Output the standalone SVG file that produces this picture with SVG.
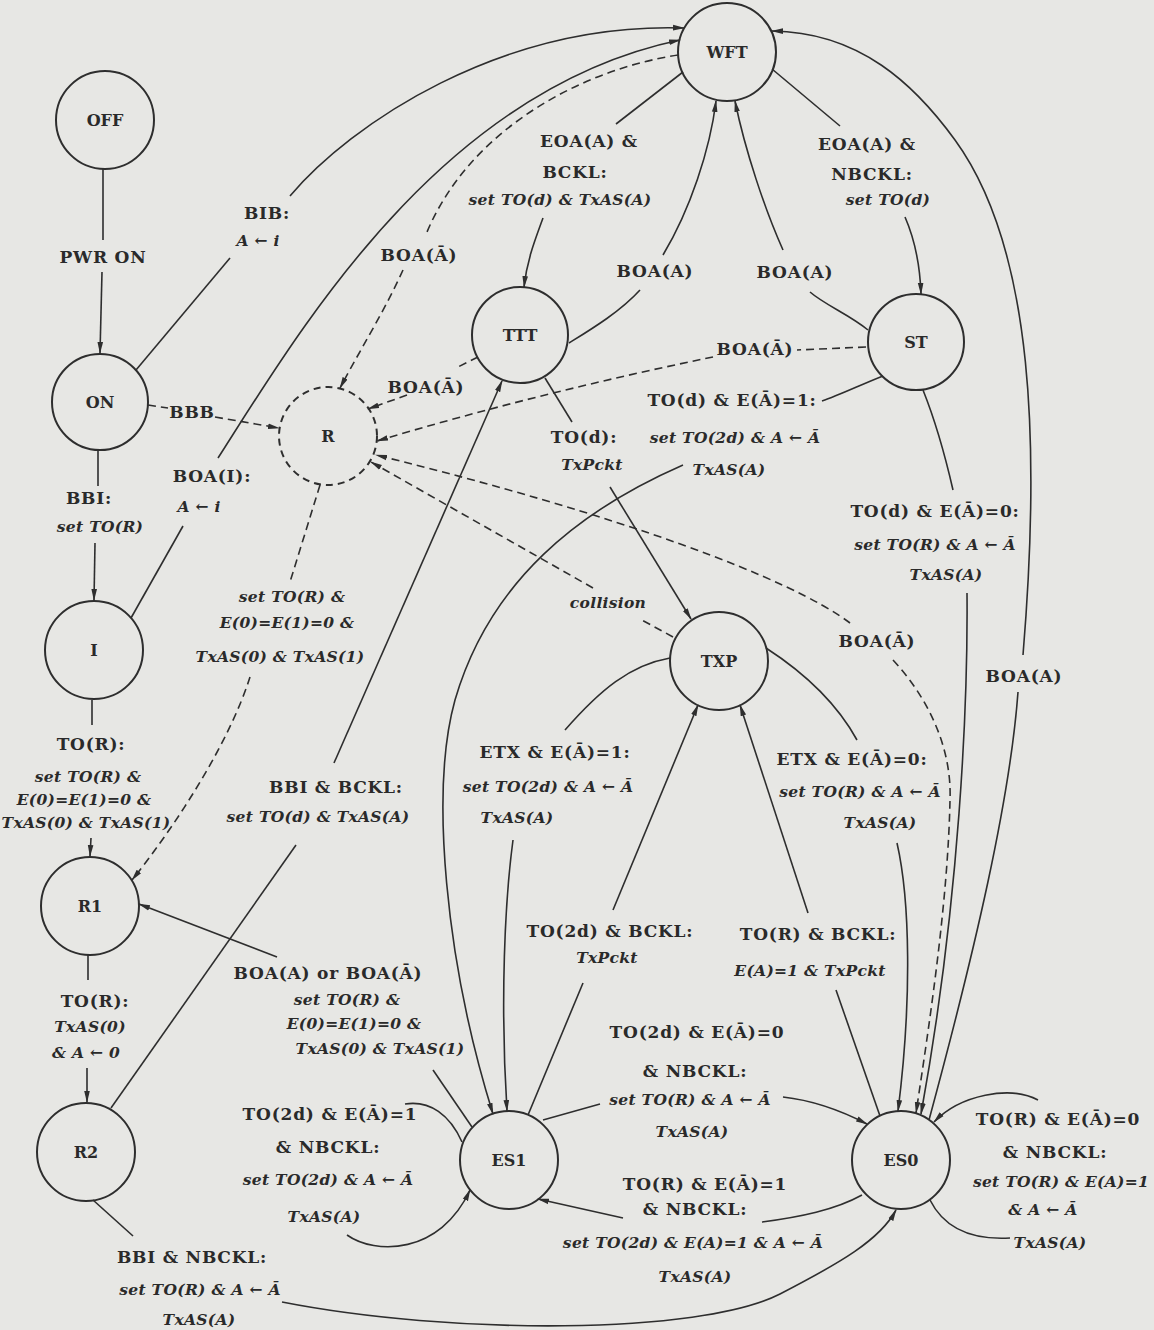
<svg xmlns="http://www.w3.org/2000/svg" width="1154" height="1330" viewBox="0 0 1154 1330">
<style>
.bg{fill:#e7e7e4}
.n{fill:none;stroke:#2e2e2e;stroke-width:2}
.nd{stroke-dasharray:7 5}
.nl{font-family:"DejaVu Serif",serif;font-weight:bold;font-size:16px;text-anchor:middle;fill:#2a2a2a}
.c path{fill:none;stroke:#2e2e2e;stroke-width:1.6}
.c path.d{stroke-dasharray:8 5}
.c path.a{marker-end:url(#ah)}
.b{font-family:"DejaVu Serif",serif;font-weight:bold;font-size:17px;text-anchor:middle;fill:#2a2a2a;letter-spacing:0.8px}
.i{font-family:"DejaVu Serif",serif;font-style:italic;font-weight:bold;font-size:15.5px;text-anchor:middle;fill:#2a2a2a;letter-spacing:0.3px}
</style>
<defs>
<marker id="ah" markerWidth="12" markerHeight="8" refX="11" refY="4" orient="auto" markerUnits="userSpaceOnUse">
<path d="M0,1.2 L12,4 L0,6.8 z" fill="#2e2e2e"/>
</marker>
</defs>
<rect class="bg" x="0" y="0" width="1154" height="1330"/>

<g id="nodes">
<g id="OFF"><circle class="n" cx="105" cy="120" r="49"/><text class="nl" x="105" y="126">OFF</text></g>
<g id="ON"><circle class="n" cx="100" cy="402" r="48"/><text class="nl" x="100" y="408">ON</text></g>
<g id="I"><circle class="n" cx="94" cy="650" r="49"/><text class="nl" x="94" y="656">I</text></g>
<g id="R"><circle class="n nd" cx="328" cy="436" r="49"/><text class="nl" x="328" y="442">R</text></g>
<g id="R1"><circle class="n" cx="90" cy="906" r="49"/><text class="nl" x="90" y="912">R1</text></g>
<g id="R2"><circle class="n" cx="86" cy="1152" r="49"/><text class="nl" x="86" y="1158">R2</text></g>
<g id="WFT"><circle class="n" cx="727" cy="52" r="49"/><text class="nl" x="727" y="58">WFT</text></g>
<g id="TTT"><circle class="n" cx="520" cy="335" r="48"/><text class="nl" x="520" y="341">TTT</text></g>
<g id="ST"><circle class="n" cx="916" cy="342" r="48"/><text class="nl" x="916" y="348">ST</text></g>
<g id="TXP"><circle class="n" cx="719" cy="661" r="49"/><text class="nl" x="719" y="667">TXP</text></g>
<g id="ES1"><circle class="n" cx="509" cy="1160" r="49"/><text class="nl" x="509" y="1166">ES1</text></g>
<g id="ES0"><circle class="n" cx="901" cy="1160" r="49"/><text class="nl" x="901" y="1166">ES0</text></g>
</g>

<g id="connectors" class="c">
<path d="M103,169 L103,240"/><path class="a" d="M102,272 L100,353"/>
<path d="M136,370 L230,258"/><path class="a" d="M290,196 C350,125 500,22 684,28"/>
<path d="M131,618 L183,526"/><path class="a" d="M218,458 C300,330 440,90 680,40"/>
<path class="d" d="M678,55 C580,70 470,130 427,232"/><path class="d a" d="M403,270 C385,310 360,350 340,388"/>
<path class="d" d="M148,405 L168,408"/><path class="d a" d="M215,417 L279,428"/>
<path d="M98,450 L98,486"/><path class="a" d="M95,543 L94,600"/>
<path d="M92,700 L92,725"/><path class="a" d="M91,838 L90,856"/>
<path class="d" d="M320,485 L290,582"/><path class="d a" d="M250,677 C230,740 180,820 132,880"/>
<path d="M88,955 L88,980"/><path class="a" d="M87,1068 L87,1102"/>
<path d="M111,1108 L296,845"/><path class="a" d="M334,763 L502,381"/>
<path d="M472,1127 L433,1070"/><path class="a" d="M277,957 L139,904"/>
<path d="M462,1142 C450,1115 430,1100 405,1104"/><path class="a" d="M347,1235 C375,1255 440,1255 470,1190"/>
<path d="M543,1120 L600,1104"/><path class="a" d="M783,1097 C810,1100 840,1110 867,1124"/>
<path d="M862,1195 C835,1210 800,1217 762,1222"/><path class="a" d="M623,1218 L538,1199"/>
<path d="M93,1200 L133,1236"/><path class="a" d="M282,1302 C450,1335 700,1335 780,1294 C840,1263 880,1240 896,1210"/>
<path class="a" d="M1038,1100 C1010,1085 960,1095 934,1122"/><path d="M930,1200 C945,1230 975,1240 1010,1238"/>
<path d="M683,72 L616,124"/><path class="a" d="M543,218 C535,240 527,260 524,287"/>
<path d="M569,343 C590,330 620,312 640,290"/><path class="a" d="M663,255 C690,210 710,150 716,101"/>
<path d="M868,330 C850,315 825,305 810,292"/><path class="a" d="M783,250 C765,210 745,150 735,101"/>
<path d="M772,69 L840,126"/><path class="a" d="M905,217 C915,240 920,265 921,294"/>
<path d="M1018,692 C1010,800 975,950 929,1120"/><path class="a" d="M1023,655 C1040,450 1035,250 955,140 C915,85 860,32 772,31"/>
<path class="d" d="M478,357 L458,367"/><path class="d a" d="M407,395 L368,409"/>
<path class="d" d="M866,347 L797,350"/><path class="d a" d="M713,357 C600,380 480,410 377,441"/>
<path class="d" d="M673,637 L640,619"/><path class="d a" d="M593,588 L371,462"/>
<path class="d a" d="M850,623 C790,578 620,515 376,455"/><path class="d a" d="M893,660 C930,700 952,750 950,800 C948,900 930,1020 916,1113"/>
<path d="M545,378 L572,422"/><path class="a" d="M610,487 L691,619"/>
<path d="M883,376 C860,385 840,395 822,401"/><path class="a" d="M683,465 C580,510 490,580 455,700 C430,790 445,960 493,1114"/>
<path d="M670,658 C630,665 600,690 565,730"/><path class="a" d="M513,840 C505,900 500,1000 507,1111"/>
<path d="M528,1115 L583,983"/><path class="a" d="M613,910 L698,705"/>
<path d="M880,1116 L836,990"/><path class="a" d="M808,913 L740,705"/>
<path d="M766,648 C800,670 835,700 857,740"/><path class="a" d="M897,843 C910,900 912,1000 898,1111"/>
<path d="M923,390 C935,420 945,455 953,490"/><path class="a" d="M967,593 C968,700 960,900 921,1114"/>
</g>

<g id="labels">
<text class="b" x="103" y="263">PWR ON</text>
<text class="b" x="267" y="219">BIB:</text>
<text class="i" x="258" y="246">A ← i</text>
<text class="b" x="212" y="482">BOA(I):</text>
<text class="i" x="199" y="512">A ← i</text>
<text class="b" x="419" y="261">BOA(Ā)</text>
<text class="b" x="192" y="418">BBB</text>
<text class="b" x="89" y="504">BBI:</text>
<text class="i" x="100" y="532">set TO(R)</text>
<text class="b" x="91" y="750">TO(R):</text>
<text class="i" x="88" y="782">set TO(R) &amp;</text>
<text class="i" x="84" y="805">E(0)=E(1)=0 &amp;</text>
<text class="i" x="86" y="828">TxAS(0) &amp; TxAS(1)</text>
<text class="i" x="292" y="602">set TO(R) &amp;</text>
<text class="i" x="287" y="628">E(0)=E(1)=0 &amp;</text>
<text class="i" x="280" y="662">TxAS(0) &amp; TxAS(1)</text>
<text class="b" x="95" y="1007">TO(R):</text>
<text class="i" x="90" y="1032">TxAS(0)</text>
<text class="i" x="86" y="1058">&amp; A ← 0</text>
<text class="b" x="336" y="793">BBI &amp; BCKL:</text>
<text class="i" x="318" y="822">set TO(d) &amp; TxAS(A)</text>
<text class="b" x="328" y="979">BOA(A) or BOA(Ā)</text>
<text class="i" x="347" y="1005">set TO(R) &amp;</text>
<text class="i" x="354" y="1029">E(0)=E(1)=0 &amp;</text>
<text class="i" x="380" y="1054">TxAS(0) &amp; TxAS(1)</text>
<text class="b" x="330" y="1120">TO(2d) &amp; E(Ā)=1</text>
<text class="b" x="328" y="1153">&amp; NBCKL:</text>
<text class="i" x="328" y="1185">set TO(2d) &amp; A ← Ā</text>
<text class="i" x="324" y="1222">TxAS(A)</text>
<text class="b" x="697" y="1038">TO(2d) &amp; E(Ā)=0</text>
<text class="b" x="695" y="1077">&amp; NBCKL:</text>
<text class="i" x="690" y="1105">set TO(R) &amp; A ← Ā</text>
<text class="i" x="692" y="1137">TxAS(A)</text>
<text class="b" x="705" y="1190">TO(R) &amp; E(Ā)=1</text>
<text class="b" x="695" y="1215">&amp; NBCKL:</text>
<text class="i" x="693" y="1248">set TO(2d) &amp; E(A)=1 &amp; A ← Ā</text>
<text class="i" x="695" y="1282">TxAS(A)</text>
<text class="b" x="192" y="1263">BBI &amp; NBCKL:</text>
<text class="i" x="200" y="1295">set TO(R) &amp; A ← Ā</text>
<text class="i" x="199" y="1325">TxAS(A)</text>
<text class="b" x="1058" y="1125">TO(R) &amp; E(Ā)=0</text>
<text class="b" x="1055" y="1158">&amp; NBCKL:</text>
<text class="i" x="1061" y="1187">set TO(R) &amp; E(A)=1</text>
<text class="i" x="1043" y="1215">&amp; A ← Ā</text>
<text class="i" x="1050" y="1248">TxAS(A)</text>
<text class="b" x="589" y="147">EOA(A) &amp;</text>
<text class="b" x="575" y="178">BCKL:</text>
<text class="i" x="560" y="205">set TO(d) &amp; TxAS(A)</text>
<text class="b" x="655" y="277">BOA(A)</text>
<text class="b" x="795" y="278">BOA(A)</text>
<text class="b" x="867" y="150">EOA(A) &amp;</text>
<text class="b" x="872" y="180">NBCKL:</text>
<text class="i" x="888" y="205">set TO(d)</text>
<text class="b" x="1024" y="682">BOA(A)</text>
<text class="b" x="426" y="393">BOA(Ā)</text>
<text class="b" x="755" y="355">BOA(Ā)</text>
<text class="i" x="608" y="608">collision</text>
<text class="b" x="877" y="647">BOA(Ā)</text>
<text class="b" x="584" y="443">TO(d):</text>
<text class="i" x="592" y="470">TxPckt</text>
<text class="b" x="732" y="406">TO(d) &amp; E(Ā)=1:</text>
<text class="i" x="735" y="443">set TO(2d) &amp; A ← Ā</text>
<text class="i" x="729" y="475">TxAS(A)</text>
<text class="b" x="555" y="758">ETX &amp; E(Ā)=1:</text>
<text class="i" x="548" y="792">set TO(2d) &amp; A ← Ā</text>
<text class="i" x="517" y="823">TxAS(A)</text>
<text class="b" x="610" y="937">TO(2d) &amp; BCKL:</text>
<text class="i" x="607" y="963">TxPckt</text>
<text class="b" x="818" y="940">TO(R) &amp; BCKL:</text>
<text class="i" x="810" y="976">E(A)=1 &amp; TxPckt</text>
<text class="b" x="852" y="765">ETX &amp; E(Ā)=0:</text>
<text class="i" x="860" y="797">set TO(R) &amp; A ← Ā</text>
<text class="i" x="880" y="828">TxAS(A)</text>
<text class="b" x="935" y="517">TO(d) &amp; E(Ā)=0:</text>
<text class="i" x="935" y="550">set TO(R) &amp; A ← Ā</text>
<text class="i" x="946" y="580">TxAS(A)</text>
</g>
</svg>
